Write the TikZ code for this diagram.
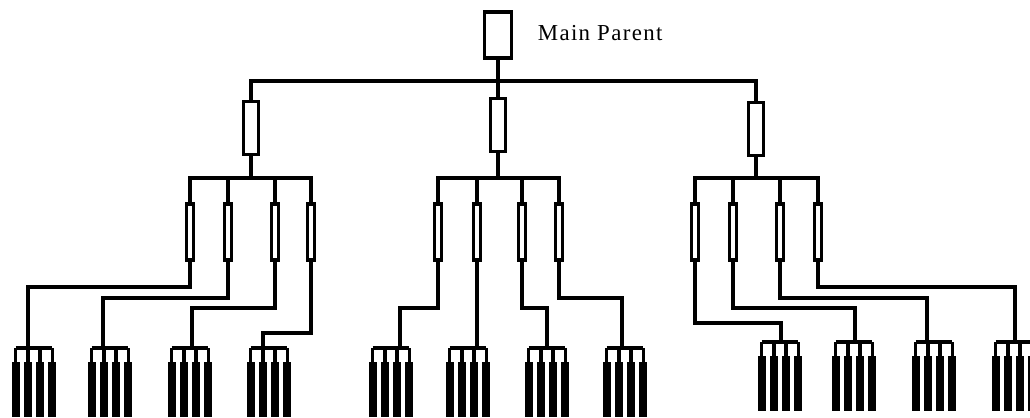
\documentclass[tikz,border=0pt]{standalone}
\usepackage{fontspec}
\setmainfont{Liberation Serif}
\begin{document}
\begin{tikzpicture}[x=0.2mm, y=-0.2mm, line width=2.1pt,
    mainbox/.style={draw, rectangle, inner sep=0, minimum width=5.4mm, minimum height=9.2mm},
    midbox/.style={draw, rectangle, inner sep=0, minimum width=3mm, minimum height=10.6mm},
    smallbox/.style={draw, rectangle, inner sep=0, minimum width=1.4mm, minimum height=11.2mm},
    leafbar/.style={fill=black, rectangle, inner sep=0, outer sep=0, anchor=north, minimum width=1.6mm, minimum height=11mm}]

    \clip (0,0) rectangle (1030,417);

    \node[mainbox] (m) at (498,35) {};
    \node[anchor=base west, inner sep=0] (mlabel) at (536,40)
        {\fontsize{13}{15}\selectfont\addfontfeatures{LetterSpace=6}Main Parent};

    \node[midbox] (a1) at (251,128) {};
    \node[midbox] (a2) at (498,125) {};
    \node[midbox] (a3) at (756,129) {};

    \coordinate (top) at (498,81);
    \draw (m.south) -- (top);
    \draw (a1.north) |- (top) -| (a3.north);
    \draw (a2.north) -- (top);

    % second row of boxes
    \foreach \i/\x in {1/190, 2/228, 3/275, 4/311, 5/438, 6/477, 7/522, 8/559, 9/695, 10/733, 11/780, 12/818}
        \node[smallbox] (b\i) at (\x,232) {};

    \foreach \a/\p/\q in {1/1/4, 2/5/8, 3/9/12} {
        \coordinate (s\a) at (a\a.south |- 0,178);
        \draw (a\a.south) -- (s\a);
        \draw (b\p.north) |- (s\a) -| (b\q.north);
    }
    \foreach \i in {2,3,6,7,10,11}
        \draw (b\i.north) -- (b\i.north |- s1);

    % leaf groups
    \foreach \g/\x/\j/\s/\y in {1/28/287/12/348, 2/103/298/88/348, 3/192/308/168/348, 4/263/333/247/348,
                                5/400/308/369/348, 6/477/298/446/348, 7/547/308/525/348, 8/622/298/603/348,
                                9/781/323/758/342, 10/855/308/832/342, 11/927/298/912/342, 12/1015/287/992/342} {
        \coordinate (t\g) at (\x,\y);
        \foreach \k in {1,...,4}
            \node[leafbar] (l\g-\k) at ({\s+3.5+12.3*(\k-1)},{\y+14}) {};
        \draw (l\g-1.north |- t\g) -- (l\g-4.north |- t\g);
        \foreach \k in {1,...,4}
            \draw (l\g-\k.north) -- (l\g-\k.north |- t\g);
        \draw (b\g.south) |- (t\g |- 0,\j) -- (t\g);
    }

\end{tikzpicture}
\end{document}
